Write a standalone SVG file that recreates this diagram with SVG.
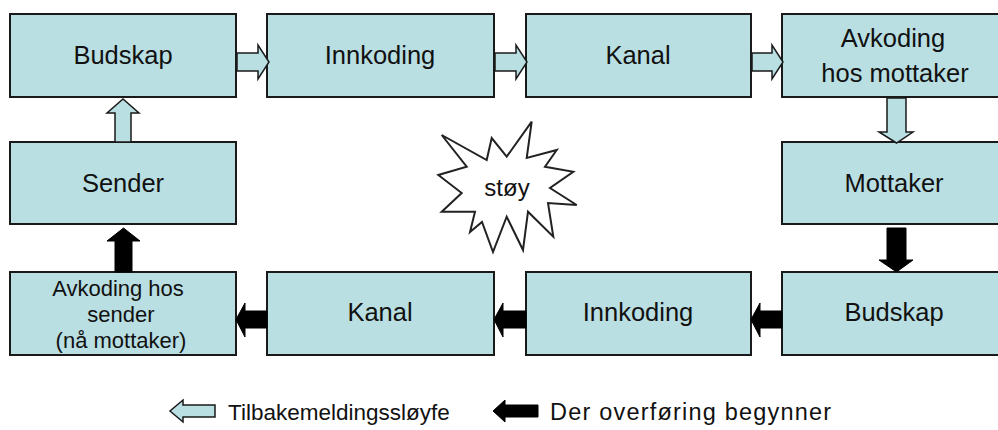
<svg xmlns="http://www.w3.org/2000/svg" width="998" height="430" viewBox="0 0 998 430">
  <style>
    .box { fill: #B9DFE3; stroke: #1a1a1a; stroke-width: 2; }
    .lbl { font-family: "Liberation Sans", Arial, sans-serif; font-size: 25.5px; fill: #111; text-anchor: middle; }
    .lbl-sm { font-family: "Liberation Sans", Arial, sans-serif; font-size: 22px; fill: #111; text-anchor: middle; }
    .legend { font-family: "Liberation Sans", Arial, sans-serif; font-size: 22.5px; fill: #111; }
    .fb { fill: #B9DFE3; stroke: #1a1a1a; stroke-width: 1.5; stroke-linejoin: miter; }
    .fw { fill: #000; stroke: #000; stroke-width: 1; }
    .star { fill: #fff; stroke: #222; stroke-width: 2; stroke-linejoin: miter; }
  </style>
  <rect width="998" height="430" fill="#fff"/>

  <!-- top row -->
  <g id="budskap-top">
    <rect class="box" x="10" y="14" width="226" height="83"/>
    <text class="lbl" x="123" y="64">Budskap</text>
  </g>
  <g id="innkoding-top">
    <rect class="box" x="267" y="14" width="227" height="83"/>
    <text class="lbl" x="380" y="64">Innkoding</text>
  </g>
  <g id="kanal-top">
    <rect class="box" x="526" y="14" width="225" height="83"/>
    <text class="lbl" x="638" y="64">Kanal</text>
  </g>
  <g id="avkoding-mottaker">
    <rect class="box" x="782" y="14" width="226" height="83"/>
    <text class="lbl" x="893" y="47">Avkoding</text>
    <text class="lbl" x="895" y="82">hos mottaker</text>
  </g>

  <!-- middle row -->
  <g id="sender">
    <rect class="box" x="10" y="142" width="226" height="82"/>
    <text class="lbl" x="123" y="192">Sender</text>
  </g>
  <g id="mottaker">
    <rect class="box" x="782" y="142" width="226" height="82"/>
    <text class="lbl" x="894" y="192">Mottaker</text>
  </g>

  <!-- bottom row -->
  <g id="avkoding-sender">
    <rect class="box" x="10" y="272" width="226" height="83"/>
    <text class="lbl-sm" x="118" y="296">Avkoding hos</text>
    <text class="lbl-sm" x="121" y="322">sender</text>
    <text class="lbl-sm" x="121" y="348">(nå mottaker)</text>
  </g>
  <g id="kanal-bottom">
    <rect class="box" x="267" y="272" width="227" height="83"/>
    <text class="lbl" x="380" y="321">Kanal</text>
  </g>
  <g id="innkoding-bottom">
    <rect class="box" x="526" y="272" width="225" height="83"/>
    <text class="lbl" x="638" y="321">Innkoding</text>
  </g>
  <g id="budskap-bottom">
    <rect class="box" x="782" y="272" width="226" height="83"/>
    <text class="lbl" x="894" y="321">Budskap</text>
  </g>

  <!-- noise burst -->
  <g id="stoy">
    <polygon class="star" points="441.7,135 486.7,160 491.7,138 506.7,156.7 531.7,121.7 526.7,158 556.7,150 545,166.7 573.3,171.7 550,188 576.7,205 548,203 553.3,236.7 528,211.7 523,250 506.7,216.7 493,252 482,222 470,232 475,211.7 441.7,211.7 461.7,193 438.3,175 466.7,166.7"/>
    <text class="lbl" x="507" y="196" style="font-size:24px">støy</text>
  </g>

  <!-- connectors -->
  <g id="connectors">
    <!-- feedback loop (light arrows) -->
    <path class="fb" d="M237,53 H258 V45 L269,62 L258,79 V71 H237 Z"/>
    <path class="fb" d="M495,53 H516 V45 L527,62 L516,79 V71 H495 Z"/>
    <path class="fb" d="M752,53 H772 V45 L783,62 L772,79 V71 H752 Z"/>
    <path class="fb" d="M887,98 V132 H879 L896.5,143 L913,132 H906 V98 Z"/>
    <path class="fb" d="M115,142 V113 H107 L123,99 L139,113 H131 V142 Z"/>
    <!-- forward path (black arrows) -->
    <path class="fw" d="M887,228 V260 H879 L896.5,272 L913,260 H906 V228 Z"/>
    <path class="fw" d="M782,311 H760 V303 L751,319.5 L760,337 V328 H782 Z"/>
    <path class="fw" d="M526,311 H503 V303 L494,319.5 L503,337 V328 H526 Z"/>
    <path class="fw" d="M267,311 H245 V303 L236,319.5 L245,337 V328 H267 Z"/>
    <path class="fw" d="M115,272 V241 H107 L123.5,228 L140,241 H132 V272 Z"/>
  </g>

  <!-- legend -->
  <g id="legend">
    <path class="fb" d="M215,405 H183 V400 L170,411 L183,422 V417 H215 Z"/>
    <text class="legend" x="228" y="420">Tilbakemeldingssløyfe</text>
    <path class="fw" d="M538,405 H505 V400 L493,411 L505,422 V417 H538 Z"/>
    <text class="legend" x="550" y="420" style="font-size:23.5px;letter-spacing:1.2px">Der overføring begynner</text>
  </g>
</svg>
